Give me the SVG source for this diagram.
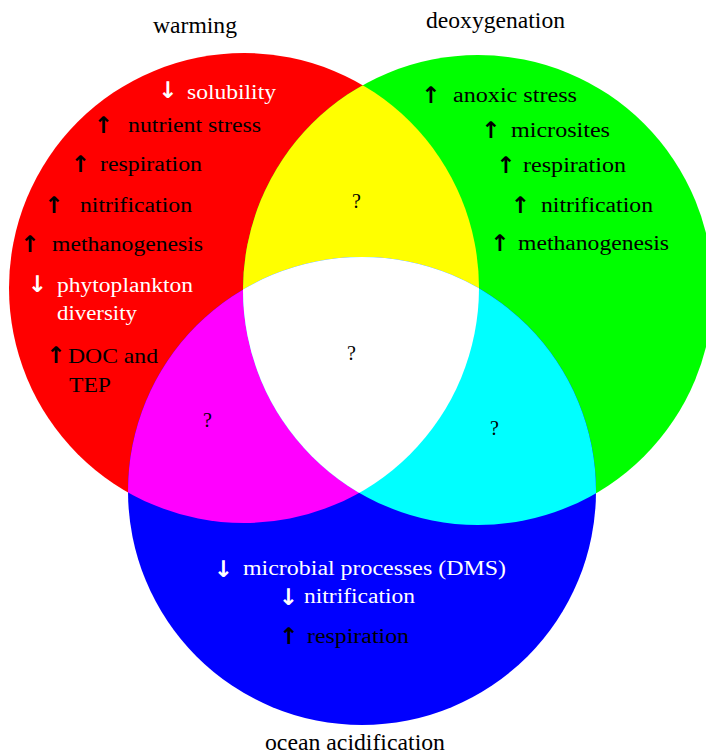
<svg xmlns="http://www.w3.org/2000/svg" width="706" height="755" viewBox="0 0 706 755">
<defs>
<clipPath id="cRed"><circle cx="244" cy="288" r="235"/></clipPath>
<clipPath id="cGreen"><circle cx="478" cy="290" r="235"/></clipPath>
<style>
text{font-family:"Liberation Serif","Times New Roman",serif;}
.t{font-size:20px;}
.title{font-size:23px;fill:#000;}
.w{fill:#fff;}
.k{fill:#000;}
.ar{font-size:23px;font-weight:bold;text-anchor:middle;font-family:"DejaVu Sans","Liberation Sans",sans-serif;}
.q{font-size:20px;fill:#000;text-anchor:middle;}
</style>
</defs>
<rect width="706" height="755" fill="#fff"/>
<g id="shapes">
<circle cx="244" cy="288" r="235" fill="#ff0000"/>
<circle cx="478" cy="290" r="235" fill="#00ff00"/>
<circle cx="362" cy="491" r="234" fill="#0000ff"/>
<circle cx="478" cy="290" r="235" fill="#ffff00" clip-path="url(#cRed)"/>
<circle cx="362" cy="491" r="234" fill="#ff00ff" clip-path="url(#cRed)"/>
<circle cx="362" cy="491" r="234" fill="#00ffff" clip-path="url(#cGreen)"/>
<g clip-path="url(#cGreen)"><circle cx="362" cy="491" r="234" fill="#ffffff" clip-path="url(#cRed)"/></g>
</g>
<g id="warming">
<text class="title" x="153" y="33" textLength="84" lengthAdjust="spacingAndGlyphs">warming</text>
<text class="ar w" x="168" y="98">↓</text>
<text class="t w" x="187" y="99" textLength="89" lengthAdjust="spacingAndGlyphs">solubility</text>
<text class="ar k" x="103.5" y="133">↑</text>
<text class="t k" x="128" y="132" textLength="133" lengthAdjust="spacingAndGlyphs">nutrient stress</text>
<text class="ar k" x="80.5" y="172">↑</text>
<text class="t k" x="100" y="171" textLength="102" lengthAdjust="spacingAndGlyphs">respiration</text>
<text class="ar k" x="54" y="213">↑</text>
<text class="t k" x="80" y="212" textLength="112" lengthAdjust="spacingAndGlyphs">nitrification</text>
<text class="ar k" x="30" y="252">↑</text>
<text class="t k" x="52" y="251" textLength="151" lengthAdjust="spacingAndGlyphs">methanogenesis</text>
<text class="ar w" x="37.5" y="292">↓</text>
<text class="t w" x="57" y="292" textLength="136" lengthAdjust="spacingAndGlyphs">phytoplankton</text>
<text class="t w" x="57" y="320" textLength="80" lengthAdjust="spacingAndGlyphs">diversity</text>
<text class="ar k" x="56" y="363">↑</text>
<text class="t k" x="68" y="363" style="font-size:22px" textLength="90" lengthAdjust="spacingAndGlyphs">DOC and</text>
<text class="t k" x="69" y="392" style="font-size:22px" textLength="42" lengthAdjust="spacingAndGlyphs">TEP</text>
</g>
<g id="deoxygenation">
<text class="title" x="426" y="28" textLength="139" lengthAdjust="spacingAndGlyphs">deoxygenation</text>
<text class="ar k" x="431" y="103">↑</text>
<text class="t k" x="453" y="102" textLength="124" lengthAdjust="spacingAndGlyphs">anoxic stress</text>
<text class="ar k" x="491" y="138">↑</text>
<text class="t k" x="511" y="137" textLength="99" lengthAdjust="spacingAndGlyphs">microsites</text>
<text class="ar k" x="506" y="173">↑</text>
<text class="t k" x="523" y="172" textLength="103" lengthAdjust="spacingAndGlyphs">respiration</text>
<text class="ar k" x="520.5" y="213">↑</text>
<text class="t k" x="541" y="212" textLength="112" lengthAdjust="spacingAndGlyphs">nitrification</text>
<text class="ar k" x="500" y="251">↑</text>
<text class="t k" x="518" y="250" textLength="151" lengthAdjust="spacingAndGlyphs">methanogenesis</text>
</g>
<g id="acidification">
<text class="title" x="265" y="750" textLength="180" lengthAdjust="spacingAndGlyphs">ocean acidification</text>
<text class="ar w" x="223.5" y="577">↓</text>
<text class="t w" x="243" y="575" textLength="263" lengthAdjust="spacingAndGlyphs">microbial processes (DMS)</text>
<text class="ar w" x="288.5" y="605">↓</text>
<text class="t w" x="304" y="603" textLength="111" lengthAdjust="spacingAndGlyphs">nitrification</text>
<text class="ar k" x="289" y="644">↑</text>
<text class="t k" x="307" y="643" textLength="102" lengthAdjust="spacingAndGlyphs">respiration</text>
</g>
<g id="overlaps">
<text class="q" x="356.5" y="208">?</text>
<text class="q" x="351.5" y="360">?</text>
<text class="q" x="207.5" y="427">?</text>
<text class="q" x="494.5" y="435">?</text>
</g>
</svg>
